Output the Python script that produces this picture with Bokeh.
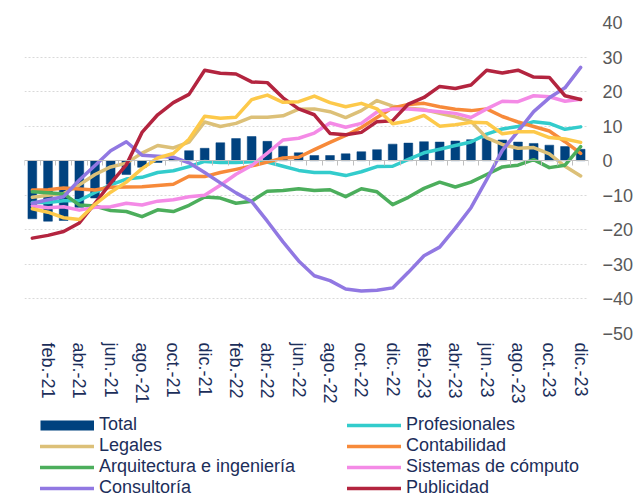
from bokeh.plotting import figure
from bokeh.layouts import column
from bokeh.models import Range1d, FixedTicker, LinearAxis, Legend, LegendItem
from bokeh.embed import file_html
from bokeh.resources import INLINE

months = ["ene.-21", "feb.-21", "mar.-21", "abr.-21", "may.-21", "jun.-21",
          "jul.-21", "ago.-21", "sep.-21", "oct.-21", "nov.-21", "dic.-21",
          "ene.-22", "feb.-22", "mar.-22", "abr.-22", "may.-22", "jun.-22",
          "jul.-22", "ago.-22", "sep.-22", "oct.-22", "nov.-22", "dic.-22",
          "ene.-23", "feb.-23", "mar.-23", "abr.-23", "may.-23", "jun.-23",
          "jul.-23", "ago.-23", "sep.-23", "oct.-23", "nov.-23", "dic.-23"]

total = [-16.8, -17.5, -17.3, -13.5, -10.8, -6.8, -4.0, -1.9, -0.5, 0.8, 2.9, 3.6,
         5.2, 6.4, 7.0, 5.6, 4.2, 2.3, 1.5, 1.5, 2.0, 2.6, 3.2, 4.8,
         5.1, 5.5, 5.4, 5.7, 6.1, 6.4, 6.0, 5.4, 5.0, 4.5, 4.1, 3.3]

profesionales = [-12.1, -12.1, -11.6, -11.5, -9.2, -7.0, -5.3, -4.8, -3.4, -2.9, -1.7, -0.2,
                 -0.5, -0.5, -0.3, -0.4, -1.6, -2.8, -3.4, -3.4, -4.3, -3.2, -1.7, -1.6,
                 0.4, 2.3, 3.3, 4.4, 5.4, 7.7, 9.2, 9.9, 11.3, 10.8, 9.1, 9.8]

legales = [-10.6, -10.0, -9.5, -7.0, -4.0, -1.8, -0.7, 2.2, 4.4, 3.7, 5.4, 11.2,
           9.9, 10.8, 12.6, 12.6, 13.0, 14.9, 15.0, 14.2, 12.5, 14.5, 17.4, 15.8,
           15.2, 14.8, 13.7, 12.7, 11.4, 6.6, 4.7, 3.6, 3.8, 2.0, -1.6, -4.4]

contabilidad = [-8.5, -8.4, -7.9, -8.2, -8.5, -7.7, -7.6, -7.5, -7.2, -6.8, -4.5, -4.6,
                -3.4, -2.5, -1.5, -0.4, 0.8, 1.0, 3.2, 5.3, 7.3, 9.6, 12.5, 15.3,
                16.3, 16.6, 15.6, 14.9, 14.5, 15.0, 12.8, 11.2, 9.9, 8.6, 5.5, 2.1]

arquitectura = [-9.0, -9.3, -9.6, -12.8, -13.1, -14.4, -14.7, -16.2, -14.2, -14.7, -12.9, -10.5,
                -10.8, -12.3, -11.7, -8.8, -8.6, -8.1, -8.6, -8.4, -10.4, -8.1, -9.0, -12.7,
                -10.6, -8.0, -6.2, -7.6, -6.2, -4.0, -1.8, -1.3, 0.3, -2.0, -1.3, 4.1]

sistemas = [-13.0, -13.6, -13.3, -14.3, -13.5, -13.3, -12.3, -12.8, -11.7, -11.3, -10.4, -10.0,
            -7.1, -3.9, -1.4, 2.2, 6.0, 6.5, 8.0, 10.9, 9.7, 10.8, 14.1, 15.0,
            15.0, 14.6, 14.2, 13.7, 12.5, 15.0, 17.2, 17.1, 18.8, 18.5, 17.2, 17.8]

consultoria = [-12.3, -11.3, -10.4, -5.6, -1.4, 2.9, 5.5, 1.6, 1.3, 1.0, -0.6, -3.4,
               -6.4, -9.3, -11.8, -17.5, -23.5, -29.0, -33.3, -34.7, -37.1, -37.7, -37.5, -36.8,
               -32.3, -27.5, -25.0, -19.5, -13.6, -5.5, 3.0, 8.5, 14.2, 18.2, 21.1, 27.0]

publicidad = [-22.4, -21.6, -20.5, -18.0, -12.3, -6.5, -1.2, 8.2, 13.3, 16.8, 19.2, 26.2,
              25.3, 25.1, 22.8, 22.6, 18.2, 15.0, 13.3, 7.9, 7.5, 8.2, 11.3, 11.6,
              16.4, 18.3, 21.5, 20.9, 21.9, 26.2, 25.4, 26.2, 24.2, 24.1, 18.8, 17.7]

# ninth series (yellow) whose legend entry lies outside the visible reference
otros = [-13.9, -14.9, -16.5, -17.0, -12.6, -9.1, -6.2, -2.3, 0.8, 2.1, 6.2, 12.9,
         12.3, 12.6, 17.7, 19.0, 16.9, 17.1, 18.7, 16.8, 15.6, 16.6, 15.0, 10.7,
         11.5, 13.1, 10.0, 10.4, 11.1, 11.0, 7.8, 8.4, 8.4, 6.7, 6.3, 5.3]

y_ticks = [-50, -40, -30, -20, -10, 0, 10, 20, 30, 40]

FONT = "Liberation Sans"
NAVY = "#00427f"
TEXT = "#1c2e5a"

x = list(range(len(months)))

p = figure(frame_width=564, frame_height=311,
           x_range=Range1d(-0.5, len(months) - 0.5),
           y_range=Range1d(min(y_ticks), max(y_ticks)),
           output_backend="svg", toolbar_location=None,
           x_axis_location=None, y_axis_location="right",
           min_border_left=24, min_border_top=22, min_border_right=0,
           min_border_bottom=0)
p.outline_line_color = None
p.background_fill_color = "white"
p.border_fill_color = "white"

# y axis on the right
yax = p.yaxis[0]
yax.ticker = FixedTicker(ticks=y_ticks)
yax.axis_line_color = None
yax.major_tick_line_color = None
yax.minor_tick_line_color = None
yax.major_tick_out = 0
yax.major_tick_in = 0
yax.major_label_standoff = 14
yax.major_label_text_font = FONT
yax.major_label_text_font_size = "18px"
yax.major_label_text_color = "#595959"

p.xgrid.visible = False
p.ygrid.ticker = FixedTicker(ticks=y_ticks)
p.ygrid.grid_line_color = "#d9d9d9"
p.ygrid.grid_line_dash = "2 2"
p.ygrid.grid_line_width = 1

# axis line at zero with month boundary ticks (no labels)
zero_axis = LinearAxis(fixed_location=0,
                       ticker=FixedTicker(ticks=[i - 0.5 for i in range(len(months) + 1)]),
                       axis_line_color="#bfbfbf", major_tick_line_color="#bfbfbf",
                       major_tick_out=5, major_tick_in=0, minor_tick_line_color=None,
                       major_label_text_font_size="1px", major_label_text_color=None,
                       major_label_standoff=0)
p.add_layout(zero_axis, "below")

# month labels at the bottom
label_ticks = [i for i in x if i % 2 == 1]
label_axis = LinearAxis(ticker=FixedTicker(ticks=label_ticks),
                        major_label_overrides={i: months[i] for i in label_ticks},
                        axis_line_color=None, major_tick_line_color=None,
                        minor_tick_line_color=None, major_tick_out=0, major_tick_in=0,
                        major_label_orientation="vertical", major_label_standoff=9,
                        major_label_text_font=FONT, major_label_text_font_size="18px",
                        major_label_text_color=TEXT)
p.add_layout(label_axis, "below")

p.vbar(x=x, top=total, width=0.56, fill_color=NAVY, line_color=NAVY, line_width=0.5)

series = [
    ("Profesionales", profesionales, "#33cccc"),
    ("Legales", legales, "#dcc078"),
    ("Contabilidad", contabilidad, "#f78a3a"),
    ("Arquitectura e ingeniería", arquitectura, "#4cae5c"),
    ("Sistemas de cómputo", sistemas, "#f48ae6"),
    ("Consultoría", consultoria, "#9178e2"),
    ("Publicidad", publicidad, "#b3243f"),
]
for name, vals, col in series:
    p.line(x=x, y=vals, line_color=col, line_width=3.5, line_join="round", line_cap="round")
p.line(x=x, y=otros, line_color="#fdc94a", line_width=3.5, line_join="round", line_cap="round")

# ---- legend strip below the chart ----
# its ranges lie away from the data, so the series only appear as legend swatches
LEG_H = 92
q = figure(width=636, height=LEG_H, x_range=Range1d(1000, 1636), y_range=Range1d(1000, 1000 + LEG_H),
           output_backend="svg", toolbar_location=None,
           x_axis_location=None, y_axis_location=None,
           min_border_left=0, min_border_right=0, min_border_top=0, min_border_bottom=0)
q.outline_line_color = None
q.xgrid.visible = False
q.ygrid.visible = False
q.background_fill_color = "white"
q.border_fill_color = "white"

proxies = {"Total": q.line(x=x, y=total, line_color=NAVY, line_width=10,
                           line_dash="solid", line_cap="butt", line_join="miter")}
for name, vals, col in series:
    proxies[name] = q.line(x=x, y=vals, line_color=col, line_width=3.5,
                           line_dash="solid", line_cap="round")

order = ["Total", "Profesionales", "Legales", "Contabilidad",
         "Arquitectura e ingeniería", "Sistemas de cómputo", "Consultoría", "Publicidad"]
legend = Legend(items=[LegendItem(label=n, renderers=[proxies[n]]) for n in order],
                orientation="horizontal", ncols=2,
                location=(16, 0), margin=0, padding=0, spacing=0,
                glyph_width=54, glyph_height=20, label_height=20, label_width=248,
                label_standoff=5,
                label_text_font=FONT, label_text_font_size="18px",
                label_text_color=TEXT,
                background_fill_alpha=0, border_line_color=None)
q.add_layout(legend, "center")

layout = column(p, q, spacing=0)
open("out.html", "w").write(file_html(layout, INLINE))
